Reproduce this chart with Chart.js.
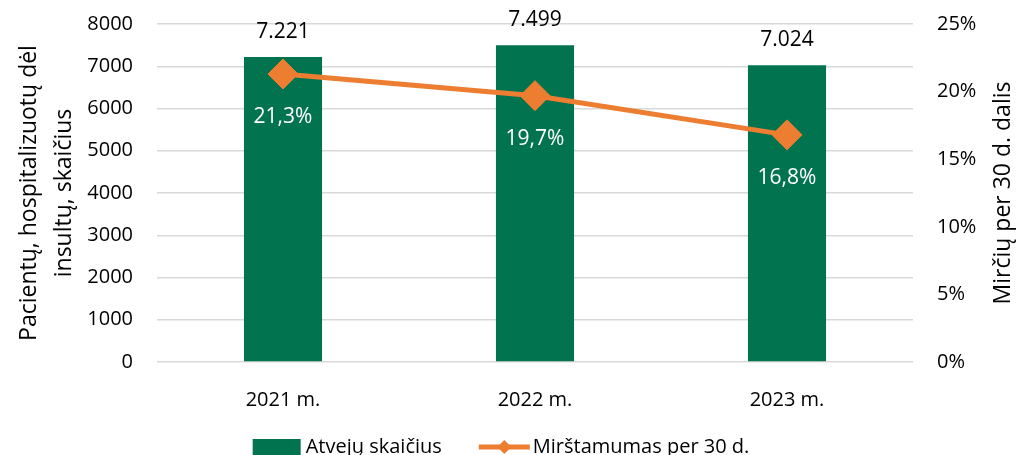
<!DOCTYPE html>
<html lang="lt">
<head>
  <meta charset="UTF-8" />
  <title>Insultai</title>
  <script src="https://cdn.jsdelivr.net/npm/chart.js"></script>
  <style>
    body { margin: 0; background: #fff; }
    #chartBox { width: 1027px; height: 455px; }
  </style>
</head>
<body>
  <div id="chartBox">
    <canvas id="miCanvas" width="1027" height="455"></canvas>
  </div>

  <script>
    // data
    const years = ["2021 m.", "2022 m.", "2023 m."];
    const cases = [7221, 7499, 7024];
    const mortality = [21.3, 19.7, 16.8];
    const countTicks = [0, 1000, 2000, 3000, 4000, 5000, 6000, 7000, 8000];
    const pctTicks = [0, 5, 10, 15, 20, 25];

    const green = '#01744f';
    const orange = '#ed7d31';
    const font = '"Open Sans", "Noto Sans", sans-serif';

    const fmtCount = n => String(n).replace(/\B(?=(\d{3})+(?!\d))/g, '.');
    const fmtPct = v => v.toFixed(1).replace('.', ',') + '%';

    const extras = {
      id: 'extras',
      afterDatasetsDraw(chart) {
        const ctx = chart.ctx;
        ctx.save();
        ctx.font = '21px ' + font;
        ctx.textAlign = 'center';
        ctx.textBaseline = 'middle';
        chart.getDatasetMeta(0).data.forEach((bar, i) => {
          ctx.fillStyle = '#000';
          ctx.fillText(fmtCount(cases[i]), bar.x, bar.y - 25);
        });
        chart.getDatasetMeta(1).data.forEach((pt, i) => {
          ctx.fillStyle = '#fff';
          ctx.fillText(fmtPct(mortality[i]), pt.x, pt.y + 43);
        });
        ctx.restore();
      },
      afterDraw(chart) {
        const ctx = chart.ctx;
        const area = chart.chartArea;
        ctx.save();
        // right axis title, reads bottom to top
        ctx.font = '23px ' + font;
        ctx.fillStyle = '#000';
        ctx.textAlign = 'center';
        ctx.textBaseline = 'middle';
        ctx.translate(chart.scales.y1.right - 24, (area.top + area.bottom) / 2);
        ctx.rotate(-Math.PI / 2);
        ctx.fillText('Mirčių per 30 d. dalis', 0, 0);
        ctx.setTransform(1, 0, 0, 1, 0, 0);

        // legend
        ctx.font = '20px ' + font;
        const t1 = 'Atvejų skaičius';
        const t2 = 'Mirštamumas per 30 d.';
        const w1 = ctx.measureText(t1).width;
        const w2 = ctx.measureText(t2).width;
        const total = 48 + 5 + w1 + 37 + 51 + 3 + w2;
        let x = 501 - total / 2;
        const y = chart.height - 8;
        ctx.textAlign = 'left';
        ctx.fillStyle = green;
        ctx.fillRect(x, y - 8, 48, 16);
        x += 53;
        ctx.fillStyle = '#000';
        ctx.fillText(t1, x, y);
        x += w1 + 37;
        ctx.strokeStyle = orange;
        ctx.lineWidth = 5;
        ctx.beginPath();
        ctx.moveTo(x, y);
        ctx.lineTo(x + 51, y);
        ctx.stroke();
        ctx.fillStyle = orange;
        ctx.beginPath();
        ctx.moveTo(x + 25.5, y - 7);
        ctx.lineTo(x + 32.5, y);
        ctx.lineTo(x + 25.5, y + 7);
        ctx.lineTo(x + 18.5, y);
        ctx.closePath();
        ctx.fill();
        x += 54;
        ctx.fillStyle = '#000';
        ctx.fillText(t2, x, y);
        ctx.restore();
      }
    };

    // keep tick padding from pushing the plot area inward
    const noEdgePad = s => { s.paddingTop = 0; s.paddingBottom = 0; };

    new Chart(document.getElementById('miCanvas'), {
      data: {
        labels: years,
        datasets: [
          {
            type: 'bar',
            label: 'Atvejų skaičius',
            data: cases,
            backgroundColor: green,
            yAxisID: 'y',
            categoryPercentage: 1,
            barPercentage: 0.31,
            order: 2
          },
          {
            type: 'line',
            label: 'Mirštamumas per 30 d.',
            data: mortality,
            borderColor: orange,
            backgroundColor: orange,
            borderWidth: 5,
            pointStyle: 'rectRot',
            pointRadius: 15,
            pointBorderWidth: 1,
            yAxisID: 'y1',
            order: 1
          }
        ]
      },
      options: {
        responsive: false,
        animation: false,
        layout: { padding: { top: 24, left: 0, right: 0, bottom: 0 } },
        plugins: {
          legend: { display: false },
          tooltip: { enabled: false }
        },
        scales: {
          x: {
            offset: true,
            grid: { display: false },
            border: { display: false },
            ticks: { color: '#000', font: { family: font, size: 20 }, padding: 18 },
            afterFit: s => { s.height = 93; }
          },
          y: {
            position: 'left',
            min: 0,
            max: 8000,
            afterBuildTicks: s => { s.ticks = countTicks.map(v => ({ value: v })); },
            ticks: {
              color: '#000',
              font: { family: font, size: 20 },
              padding: 24,
              callback: v => String(v)
            },
            grid: { color: '#d9d9d9', lineWidth: 1.5, drawTicks: false },
            border: { display: false },
            title: {
              display: true,
              text: ['Pacientų, hospitalizuotų dėl', 'insultų, skaičius'],
              color: '#000',
              font: { family: font, size: 23, lineHeight: 1.52 },
              padding: { top: 12, bottom: 0 }
            },
            afterFit: s => { s.width = 157; noEdgePad(s); }
          },
          y1: {
            position: 'right',
            min: 0,
            max: 25,
            afterBuildTicks: s => { s.ticks = pctTicks.map(v => ({ value: v })); },
            ticks: {
              color: '#000',
              font: { family: font, size: 20 },
              padding: 24,
              callback: v => v + '%'
            },
            grid: { display: false, drawTicks: false },
            border: { display: false },
            afterFit: s => { s.width = 114; noEdgePad(s); }
          }
        }
      },
      plugins: [extras]
    });
  </script>
</body>
</html>
